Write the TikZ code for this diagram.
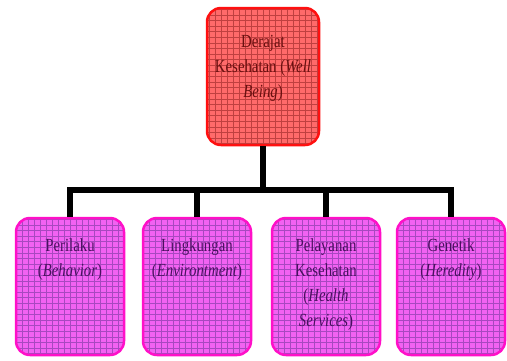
\documentclass[tikz,border=0pt]{standalone}
\usepackage{fontspec}
\setmainfont{Liberation Serif}[FakeStretch=0.8]
\definecolor{redfill}{HTML}{FF6A6A}
\definecolor{redgrid}{HTML}{C04040}
\definecolor{redborder}{HTML}{FF1010}
\definecolor{redtext}{HTML}{6A1010}
\definecolor{pinkfill}{HTML}{F262F2}
\definecolor{pinkgrid}{HTML}{A848C0}
\definecolor{pinkborder}{HTML}{FF10C8}
\definecolor{pinktext}{HTML}{4A1060}
\begin{document}
\begin{tikzpicture}[x=1pt,y=-1pt,
  gridbox/.style={rounded corners=14pt, line width=2.5pt, inner sep=0pt,
    minimum height=137pt},
  topbox/.style={gridbox, draw=redborder, fill=redfill, minimum width=112pt,
    path picture={\draw[redgrid, line width=0.5pt]
      ([xshift=-1pt,yshift=-1pt]path picture bounding box.south west)
      grid[xstep=6pt,ystep=5.6pt] (path picture bounding box.north east);}},
  botbox/.style={gridbox, draw=pinkborder, fill=pinkfill, minimum width=108pt,
    path picture={\draw[pinkgrid, line width=0.5pt]
      ([xshift=-1pt,yshift=-1pt]path picture bounding box.south west)
      grid[xstep=6pt,ystep=5.6pt] (path picture bounding box.north east);}},
  lbl/.style={anchor=north, inner sep=0pt, align=center,
    font=\fontsize{18.5}{25}\selectfont},
  conn/.style={line width=5.5pt, black}]
\useasboundingbox (0,0) rectangle (507,360);
\node[topbox] (top) at (263,76.5) {};
\node[botbox] (b1) at (70,286.5) {};
\node[botbox] (b2) at (197,286.5) {};
\node[botbox] (b3) at (326,286.5) {};
\node[botbox] (b4) at (451,286.5) {};
\coordinate (bar) at (263,190);
\draw[conn] (top.south) -- (bar);
\draw[conn] (b1.north) |- (bar);
\draw[conn] (b2.north) |- (bar);
\draw[conn] (b3.north) |- (bar);
\draw[conn] (b4.north) |- (bar);
\node[lbl, text=redtext] (ttop) at ([yshift=-28pt]top.north) {Derajat\\Kesehatan (\textit{Well}\\\textit{Being})};
\node[lbl, text=pinktext] (t1) at ([yshift=-22pt]b1.north) {Perilaku\\(\textit{Behavior})};
\node[lbl, text=pinktext] (t2) at ([yshift=-22pt]b2.north) {Lingkungan\\(\textit{Environtment})};
\node[lbl, text=pinktext] (t3) at ([yshift=-22pt]b3.north) {Pelayanan\\Kesehatan\\(\textit{Health}\\\textit{Services})};
\node[lbl, text=pinktext] (t4) at ([yshift=-22pt]b4.north) {Genetik\\(\textit{Heredity})};
\end{tikzpicture}
\end{document}
